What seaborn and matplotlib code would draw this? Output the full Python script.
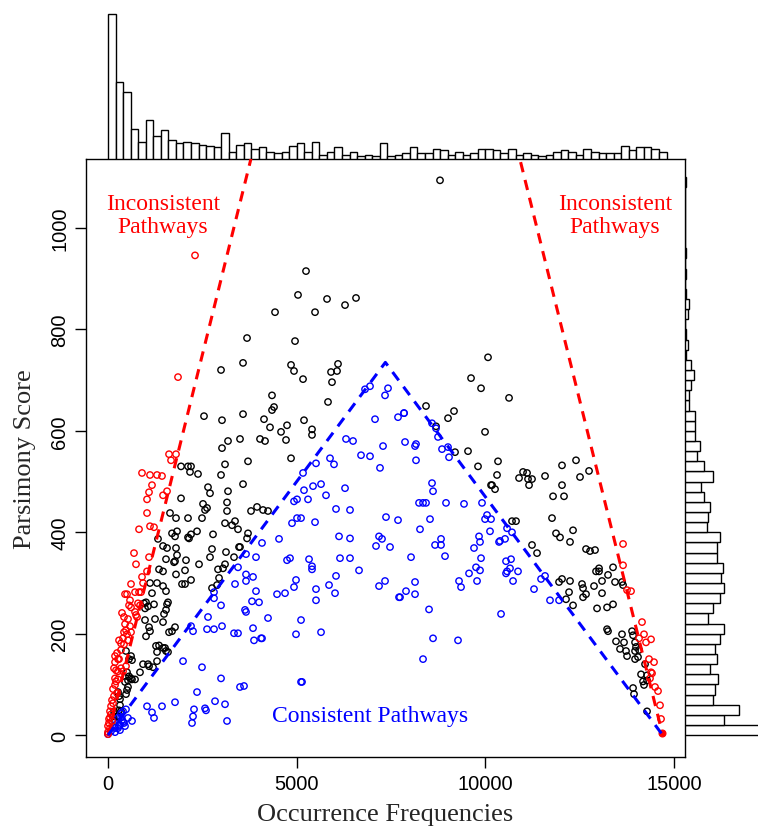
import numpy as np
import pandas as pd
import matplotlib
matplotlib.use("Agg")
import matplotlib.pyplot as plt
import seaborn as sns

# ---------------- data ----------------
red_pts = [
    (1855,706),(1617,554),(1670,542),(1802,554),(901,517),(1113,513),(1299,513),(1431,511),
    (1166,493),(1087,479),(1034,465),(1564,481),(1458,473),(1034,438),(822,406),(1113,412),
    (1219,410),(689,359),(742,337),(1087,351),(1034,323),(901,312),
    (610,298),(928,300),(875,282),(822,282),(716,282),(504,278),(451,278),(583,266),(795,260),
    (848,256),(557,256),(610,252),(716,243),(371,241),(424,233),(530,229),(742,237),(769,233),
    (451,219),(583,215),(477,207),(424,203),(504,199),(610,203),(398,191),(292,187),(345,181),
    (424,179),(530,187),(345,168),(239,162),(186,156),(265,150),(186,144),(292,150),(159,132),
    (212,128),(265,126),(345,132),(398,126),(477,136),(186,112),(212,106),(265,110),(186,99),
    (133,91),(239,83),(159,77),(106,69),(133,63),(80,57),(53,47),(27,32),(0,18),(0,6),(0,2),
    (80,41),(53,35),(27,24),(53,14),(106,28),
    (2306,946),
    (13648,335),(13860,284),(13754,286),(14151,223),(14204,199),(14390,189),(14257,183),
    (14072,191),(14337,150),(14469,144),(14390,124),(14416,122),(14363,112),(14496,95),
    (14575,87),(14628,59),(14655,32),(13648,377),
]
red_filled = [(14681,4)]

black_pts = [
    (3684,783),(4956,777),(3578,734),(2995,720),(4850,730),(4929,718),(4346,670),(4399,647),
    (4346,641),(2544,629),(3021,621),(3578,633),(4134,623),(4293,607),(4744,611),(4585,598),
    (3498,584),(4028,584),(4161,580),(4717,582),(3180,580),(3021,566),(4850,546),(3710,540),
    (3101,534),(1935,530),(2120,530),(2200,530),(2173,519),(2385,515),(2995,513),(3578,495),
    (2650,489),(2703,477),(3180,481),(1935,467),(3154,459),(2518,456),(2624,448),(2571,444),
    (3790,442),(3949,450),(4108,444),(4240,442),(3154,442),(1643,438),(1802,428),(2120,428),
    (2491,428),(3101,418),(3286,414),(3366,422),(3445,406),(1696,398),(1776,392),(1829,402),
    (2120,390),(2200,396),(2147,388),(2359,402),(2783,396),(3710,398),(3684,388),(1325,387),
    (1458,373),(1564,369),(1802,369),(2756,367),(3472,371),(3498,371),(3127,361),(1829,355),
    (1537,347),(2703,351),(3339,351),(2067,345),(1749,341),(1776,343),(2412,337),(2041,325),
    (1352,327),(1458,323),(1802,317),(2915,327),(3048,329),(3101,337),
    (1113,300),(1299,300),(1166,280),(1537,284),(1961,298),(2041,298),(1458,294),(954,260),
    (1007,262),(1060,254),(981,250),(1219,258),(1564,258),(1590,262),(1537,247),(1484,239),
    (981,227),(1246,229),(1458,223),(1087,213),(1113,205),(1776,213),(1696,205),(1617,203),
    (1007,195),(1272,176),(1352,177),(1458,172),(1511,172),(1537,166),(1590,164),(477,166),
    (610,156),(557,150),(636,148),(1299,164),(1299,146),(1060,140),(1087,136),(928,140),
    (1193,134),(848,124),(504,124),(557,116),(636,110),(716,110),(530,108),(610,112),(451,105),
    (530,95),(504,89),(477,81),(265,85),(292,77),(318,71),(318,59),(292,49),(345,47),(159,47),
    (133,37),(186,28),(239,37),
    (2200,306),(2756,290),(2889,296),(2942,310),
    (6095,732),(5910,716),(6069,718),(5936,696),(5168,702),(5830,657),(5194,621),(5406,603),
    (5406,592),(10070,745),(9620,704),(9885,684),(8427,649),(9169,639),(9010,625),(8692,609),
    (9991,598),(9196,558),(9540,560),(9805,530),(10335,540),(10309,513),(10150,493),
    (10176,493),(10256,485),
    (11952,302),(12031,308),(12243,304),(12137,268),(12217,282),(12323,256),(12561,298),
    (12588,290),(12588,272),(12667,278),(12879,294),(12932,323),(13012,329),(13012,323),
    (13091,304),(13091,280),(13250,316),(13383,331),(12959,250),(13224,252),(13383,258),
    (13436,302),(13621,302),(13648,296),(13224,209),(13250,205),(13621,199),(13462,185),
    (13674,183),(13886,205),(13913,197),(13966,183),(13992,174),(14072,168),(13966,166),
    (13568,170),(13727,166),(13754,156),(14045,154),(13966,150),(14231,140),(14125,120),
    (14284,118),(14284,108),(14178,106),(14204,99),(13913,93),(13939,81),(14284,47),
    (10627,665),(12031,532),(12402,542),(12747,521),(12508,509),(10998,519),(11104,517),
    (10892,507),(11130,505),(11236,505),(11157,493),(11581,511),(12031,493),(11793,471),
    (12084,471),(11766,428),(12323,404),(11872,398),(11978,390),(12243,381),(10706,422),
    (10812,422),(11236,375),(11369,359),(12667,367),(12773,363),(12906,365),
    (8798,1094),(5247,915),(5035,868),(5804,860),(6572,862),(5486,834),(6281,848),(4426,834),
]

blue_pts = [
    (4081,379),(4532,387),(3657,357),(3922,351),(3445,331),(3657,317),(3843,312),(4744,345),
    (4823,349),(4929,461),(5009,465),(4876,418),(5009,428),
    (477,51),(398,47),(345,43),(345,35),(265,34),(371,30),(424,24),(318,20),(292,18),(186,20),
    (186,14),(318,10),(451,18),(530,34),(398,26),(636,28),(1034,57),(1431,57),(1776,65),
    (1166,45),(1219,34),(1988,146),(2200,215),(2253,205),(2279,51),(2253,37),(2226,24),(0,2),
    (80,8),(186,6),(265,14),
    (3657,304),(3366,298),(2809,270),(2809,282),(3922,284),(3816,264),(4002,262),(4479,278),
    (4691,280),(4929,292),(4982,306),(5512,288),(5512,266),(5857,296),(6016,280),(7182,294),
    (7341,304),(7712,272),(2995,256),(2650,233),(3631,247),(3657,243),(4240,231),(5115,227),
    (2624,209),(2809,209),(3021,215),(3339,201),(3445,201),(3843,211),(3869,187),(4055,191),
    (4081,191),(4982,199),(5645,203),(2491,134),(2995,112),(3498,95),(3604,97),(5115,105),
    (5141,105),(2359,85),(2836,67),(3101,61),(2571,53),(2597,49),(3154,28),
    (6811,682),(6943,688),(7420,684),(7341,670),(7076,623),(7685,627),(7844,635),(7844,635),
    (8586,615),(8692,605),(6307,584),(6493,580),(7288,570),(7871,578),(8136,570),(8162,574),
    (8745,588),(8851,564),(9010,568),(9037,548),(6705,552),(6943,550),(8162,542),(7208,527),
    (5883,546),(5989,534),(5512,536),(5168,517),(5645,495),(5433,491),(5194,483),(5300,465),
    (5777,473),(6281,487),(8586,497),(8613,481),(8242,458),(8348,458),(8427,458),(8957,458),
    (9434,456),(9911,458),(6042,446),(6413,444),(5115,428),(5486,420),(7367,430),(7685,424),
    (8533,426),(8268,406),(10044,434),(9991,426),(10150,426),(10123,402),(6122,392),(6413,388),
    (7182,392),(7261,387),(7102,373),(7473,371),(8825,387),(8825,375),(8666,375),(9832,392),
    (9858,381),(9699,369),(10362,381),(5327,347),(5406,333),(5406,327),(6148,349),(6413,349),
    (8030,351),(8931,353),(9885,349),(9752,331),(9858,325),(6652,325),(6042,314),(9567,319),
    (8136,302),(7897,284),(8136,278),(7738,272),(9302,304),(9355,292),(9779,304),(8507,248),
    (10415,239),(10547,319),(10574,323),(10653,329),(10865,323),(10547,343),(10680,347),
    (10733,304),(11289,288),(11475,308),(11581,314),(11713,266),(11952,266),(8613,191),
    (9275,187),(8348,150),
    (10574,408),(10706,400),(10521,387),(10388,383),
]

# marginal histogram counts
x_bin_width = 200
x_counts = [100,53,46,21,12,27,16,20,13,11, 12,11,10,9,8,18,5,10,11,7,
            8,5,4,5,9,11,5,12,3,5, 8,3,5,2,3,2,11,2,3,4,
            8,4,4,7,6,3,5,3,4,7, 7,6,4,7,3,4,3,2,3,5,
            6,5,3,7,5,4,4,4,9,6, 8,8,7,5]
y_bin_width = 20
y_counts = [90,27,37,19,21,23,17,22,21,24, 27,16,19,24,27,25,26,22,22,24,
            15,16,17,13,11,19,13,8,10,7, 7,7,3,3,4,
            6,4,1,2,1, 0,2,3,1,0, 1,0,1,0,0, 0,0,0,0,1]

# boundary lines
n_total = 14700
red_slope = 0.3
blue_slope = 0.1

# ---------------- plotting ----------------
sns.set_style("ticks")
plt.rcParams['font.family'] = ['Liberation Sans', 'DejaVu Sans']
SERIF = ['Liberation Serif', 'DejaVu Serif']

W, H = 758, 829
fig = plt.figure(figsize=(W / 100, H / 100), dpi=100)
L, R, T, B = 86, 685, 160, 758
ax = fig.add_axes([L / W, 1 - B / H, (R - L) / W, (B - T) / H])
axt = fig.add_axes([L / W, 1 - T / H, (R - L) / W, T / H])
axr = fig.add_axes([R / W, 1 - B / H, (W - R) / W, (B - T) / H])

xlim = (-583, 15290)
ylim = (-43, 1136)
px_per_count = 1.45

# scatter
for pts, col in [(black_pts, 'black'), (blue_pts, 'blue'), (red_pts, 'red')]:
    df = pd.DataFrame(pts, columns=['x', 'y'])
    sns.scatterplot(data=df, x='x', y='y', ax=ax, s=21, marker='o', color=col,
                    edgecolor=col, linewidth=1.0, legend=False, zorder=3)
    ax.collections[-1].set_facecolor('none')
dff = pd.DataFrame(red_filled, columns=['x', 'y'])
sns.scatterplot(data=dff, x='x', y='y', ax=ax, s=24, marker='o', color='red',
                edgecolor='red', linewidth=0.9, legend=False, zorder=3)

# dashed boundary lines
dash = (0, (3.4, 2.6))
lx = np.array([0.0, 1200 / red_slope])
sns.lineplot(x=lx, y=red_slope * lx, ax=ax, color='red', lw=2.2, linestyle=dash, zorder=4)
rx = np.array([n_total - 1200 / red_slope, n_total])
sns.lineplot(x=rx, y=red_slope * (n_total - rx), ax=ax, color='red', lw=2.2, linestyle=dash, zorder=4)
bx = np.array([0.0, n_total / 2, n_total])
sns.lineplot(x=bx, y=blue_slope * np.minimum(bx, n_total - bx), ax=ax, color='blue',
             lw=2.2, linestyle=dash, zorder=4)

ax.set_xlim(*xlim)
ax.set_ylim(*ylim)
ax.set_xticks([0, 5000, 10000, 15000])
ax.set_yticks([0, 200, 400, 600, 800, 1000])
ax.set_yticklabels(['0', '200', '400', '600', '800', '1000'], rotation=90, va='center')
ax.tick_params(axis='both', direction='out', length=8, width=1, labelsize=14.5, pad=4,
               colors='black')
for s in ax.spines.values():
    s.set_visible(True)
    s.set_linewidth(1)
    s.set_color('black')
ax.set_xlabel('Occurrence Frequencies', family=SERIF, fontsize=19, labelpad=7.5)
ax.set_ylabel('Parsimony Score', family=SERIF, fontsize=19, labelpad=10)

ax.text(1458, 1026, 'Inconsistent\nPathways', color='red', family=SERIF, fontsize=17,
        ha='center', va='center', linespacing=1.1)
ax.text(13436, 1026, 'Inconsistent\nPathways', color='red', family=SERIF, fontsize=17,
        ha='center', va='center', linespacing=1.1)
ax.text(6943, 39, 'Consistent Pathways', color='blue', family=SERIF, fontsize=17,
        ha='center', va='center')

# top histogram
x_left = np.arange(len(x_counts)) * x_bin_width
hx = pd.DataFrame({'v': x_left + x_bin_width / 2, 'w': x_counts})
sns.histplot(data=hx, x='v', weights='w', binwidth=x_bin_width,
             binrange=(0, len(x_counts) * x_bin_width), ax=axt, color='white',
             edgecolor='black', linewidth=1, alpha=1)
axt.set_xlim(*xlim)
axt.set_ylim(0, T / px_per_count)
axt.axis('off')

# right histogram
y_low = np.arange(len(y_counts)) * y_bin_width
hy = pd.DataFrame({'v': y_low + y_bin_width / 2, 'w': y_counts})
sns.histplot(data=hy, y='v', weights='w', binwidth=y_bin_width,
             binrange=(0, len(y_counts) * y_bin_width), ax=axr, color='white',
             edgecolor='black', linewidth=1, alpha=1)
axr.set_ylim(*ylim)
axr.set_xlim(0, (W - R) / px_per_count)
axr.axis('off')

fig.savefig('out.png', dpi=100)
